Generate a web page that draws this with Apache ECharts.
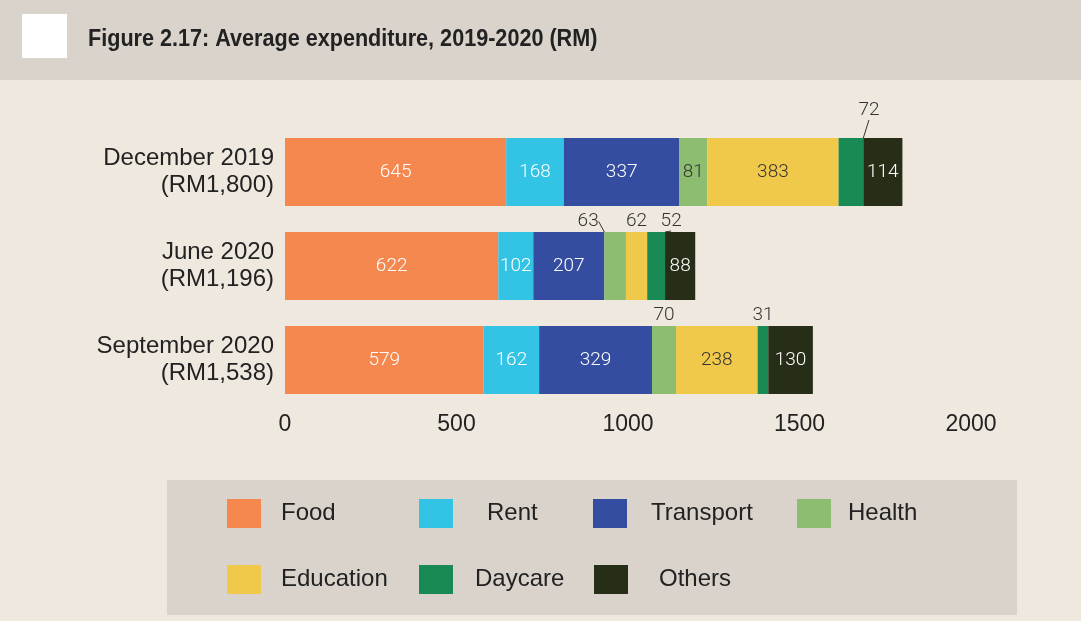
<!DOCTYPE html>
<html>
<head>
<meta charset="utf-8">
<script src="https://cdn.jsdelivr.net/npm/echarts@6/dist/echarts.min.js"></script>
<style>
  html, body { margin: 0; padding: 0; background: #efe8df; }
  #chart { width: 1081px; height: 621px; }
</style>
</head>
<body>
<div id="chart"></div>
<script>
// 数据
const categories = ["December 2019", "June 2020", "September 2020"];
const totals = ["RM1,800", "RM1,196", "RM1,538"];
const seriesNames = ["Food", "Rent", "Transport", "Health", "Education", "Daycare", "Others"];
const food = [645, 622, 579];
const rent = [168, 102, 162];
const transport = [337, 207, 329];
const health = [81, 63, 70];
const education = [383, 62, 238];
const daycare = [72, 52, 31];
const others = [114, 88, 130];
const xTicks = [0, 500, 1000, 1500, 2000];

const values = [food, rent, transport, health, education, daycare, others];
const colors = ["#f4884f", "#32c3e5", "#344da0", "#8dbd70", "#f0c94b", "#1a8a55", "#262e18"];
const labelColors = ["#fff", "#fff", "#fff", "#333", "#333", "#333", "#fff"];
// 放在柱子上方的标签 (series name -> data index list)
const outside = { Health: [1, 2], Education: [1], Daycare: [0, 1, 2] };
// 标签偏移 + 引导线
const shifts = { "Daycare-0": [18, -17], "Daycare-1": [15, 0], "Health-1": [-27, 0] };

const font = "'Liberation Sans', Arial, sans-serif";
const lightFont = "Roboto, 'Liberation Sans', Arial, sans-serif";

const series = seriesNames.map((name, si) => ({
  name,
  type: "bar",
  stack: "total",
  barWidth: 68,
  itemStyle: { color: colors[si] },
  label: {
    show: true,
    position: "inside",
    color: labelColors[si],
    fontFamily: lightFont,
    fontWeight: 300,
    fontSize: 19,
  },
  labelLayout: (params) => {
    const s = shifts[name + "-" + params.dataIndex];
    return s ? { dx: s[0], dy: s[1] } : {};
  },
  data: values[si].map((v, di) => {
    const item = { value: v };
    if (outside[name] && outside[name].indexOf(di) > -1) {
      item.label = { position: "top", color: "#333", distance: 1 };
      if (shifts[name + "-" + di]) {
        item.labelLine = { show: true, lineStyle: { color: "#333", width: 1 } };
      }
    }
    return item;
  }),
}));

// 图例: 每项单独定位
const legendPos = [
  [227, 499, 15], [419, 499, 29], [593, 499, 19], [797, 499, 12],
  [227, 565, 15], [419, 565, 17], [594, 565, 26],
];
const legend = seriesNames.map((name, i) => ({
  data: [name],
  left: legendPos[i][0],
  top: legendPos[i][1],
  padding: 0,
  icon: "rect",
  itemWidth: 34,
  itemHeight: 29,
  selectedMode: false,
  textStyle: {
    fontFamily: font,
    fontSize: 24,
    color: "#222",
    padding: [0, 0, 0, legendPos[i][2]],
  },
}));

const option = {
  backgroundColor: "#efe8df",
  animation: false,
  legend,
  grid: { left: 285, right: 110, top: 125, bottom: 214 },
  xAxis: {
    type: "value",
    min: xTicks[0],
    max: xTicks[xTicks.length - 1],
    interval: xTicks[1] - xTicks[0],
    axisLine: { show: false },
    axisTick: { show: false },
    splitLine: { show: false },
    axisLabel: {
      margin: 6,
      color: "#222",
      fontSize: 23,
      fontFamily: font,
      formatter: (v) => String(v),
    },
  },
  yAxis: {
    type: "category",
    inverse: true,
    data: categories,
    axisLine: { show: false },
    axisTick: { show: false },
    axisLabel: {
      margin: 11,
      align: "right",
      color: "#222",
      fontSize: 24,
      fontFamily: font,
      lineHeight: 27,
      formatter: (v, i) => v + "\n(" + totals[i] + ")",
    },
  },
  graphic: [
    { type: "rect", left: 0, top: 0, shape: { width: 1081, height: 80 }, style: { fill: "#d9d3cb" }, z: -1 },
    { type: "rect", left: 22, top: 14, shape: { width: 45, height: 44 }, style: { fill: "#fff" } },
    {
      type: "text", x: 88, y: 27, scaleX: 0.9,
      style: {
        text: "Figure 2.17: Average expenditure, 2019-2020 (RM)",
        fill: "#222", fontSize: 24, fontWeight: "bold",
        fontFamily: font,
      },
    },
    { type: "rect", left: 167, top: 480, shape: { width: 850, height: 135 }, style: { fill: "#d9d3cb" }, z: -1 },
  ],
  series,
};

const myChart = echarts.init(document.getElementById("chart"));
myChart.setOption(option);
window.addEventListener("resize", () => {
  myChart.resize();
});
</script>
</body>
</html>
